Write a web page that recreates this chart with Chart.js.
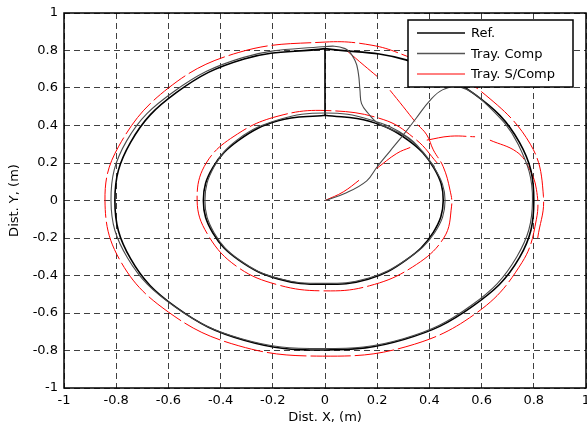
<!DOCTYPE html>
<html>
<head>
<meta charset="utf-8">
<script src="https://cdn.jsdelivr.net/npm/chart.js@4.4.1/dist/chart.umd.min.js"></script>
<style>
  html, body { margin: 0; padding: 0; background: #fff; }
</style>
</head>
<body>
<canvas id="chart" width="587" height="427"></canvas>
<script>
// Series labels and axis ticks
const seriesLabels = ['Ref.', 'Tray. Comp', 'Tray. S/Comp'];
const xTicks = [-1, -0.8, -0.6, -0.4, -0.2, 0, 0.2, 0.4, 0.6, 0.8, 1];
const xTickLabels = ['-1', '-0.8', '-0.6', '-0.4', '-0.2', '0', '0.2', '0.4', '0.6', '0.8', '1'];
const yTicks = [-1, -0.8, -0.6, -0.4, -0.2, 0, 0.2, 0.4, 0.6, 0.8, 1];
const yTickLabels = ['-1', '-0.8', '-0.6', '-0.4', '-0.2', '0', '0.2', '0.4', '0.6', '0.8', '1'];
const xTitle = 'Dist. X, (m)';
const yTitle = 'Dist. Y, (m)';

// Reference path: outer circle, straight drop at x = 0, inner circle  ([x, y] in m)
const refOuter = [[0, 0.81], [0.31, 0.75], [0.57, 0.57], [0.745, 0.31], [0.8, 0], [0.745, -0.305], [0.565, -0.565],
  [0.305, -0.74], [0, -0.797], [-0.31, -0.745], [-0.57, -0.57], [-0.745, -0.31], [-0.805, 0], [-0.745, 0.31],
  [-0.57, 0.575], [-0.31, 0.755], [0, 0.81]];
const refDrop = [[0, 0.81], [0, 0.455], [0, 0.455]];
const refInner = [[0.17, 0.423], [0.318, 0.322], [0.418, 0.172], [0.453, 0], [0.415, -0.17], [0.31, -0.318],
  [0.165, -0.42], [-0.006, -0.447], [-0.18, -0.418], [-0.33, -0.318], [-0.43, -0.172], [-0.466, 0],
  [-0.43, 0.175], [-0.33, 0.322], [-0.18, 0.425], [0, 0.455]];

// Compensated trajectory
const compStart = [[0, 0], [0.08, 0.04], [0.16, 0.105], [0.2, 0.18], [0.25, 0.265], [0.3, 0.35],
  [0.35, 0.44], [0.4, 0.53], [0.45, 0.59], [0.517, 0.606]];
const compOuter = [[0.61, 0.525], [0.74, 0.3], [0.795, 0], [0.735, -0.3], [0.56, -0.56], [0.3, -0.737],
  [-0.01, -0.79], [-0.32, -0.737], [-0.58, -0.562], [-0.757, -0.305], [-0.82, 0], [-0.76, 0.318],
  [-0.58, 0.58], [-0.315, 0.762], [-0.01, 0.82], [0.077, 0.81]];
const compDrop = [[0.115, 0.747], [0.128, 0.677], [0.134, 0.588], [0.14, 0.517], [0.166, 0.464], [0.2, 0.415]];
const compInner = [[0.32, 0.33], [0.42, 0.172], [0.46, 0], [0.42, -0.172], [0.315, -0.312], [0.165, -0.415],
  [-0.005, -0.442], [-0.18, -0.415], [-0.33, -0.315], [-0.425, -0.172], [-0.46, 0], [-0.425, 0.18],
  [-0.33, 0.33], [-0.175, 0.432], [0, 0.467], [0.17, 0.432], [0.32, 0.335], [0.42, 0.18]];

// Uncompensated trajectory (null = break in the trace)
const noCompStart = [[0, 0], [0.07, 0.046], [0.14, 0.118], null, [0.198, 0.171], [0.275, 0.251], [0.33, 0.285], null,
  [0.39, 0.322], [0.48, 0.343], [0.575, 0.34], null];
const noCompOuter = [[0.632, 0.322], [0.734, 0.26], [0.779, 0.18], [0.81, 0.06], [0.81, -0.1], [0.755, -0.33],
  [0.585, -0.595], [0.31, -0.78], [-0.01, -0.83], [-0.33, -0.775], [-0.6, -0.595], [-0.785, -0.32], [-0.843, 0],
  [-0.79, 0.29], [-0.6, 0.6], [-0.33, 0.79], [0, 0.845], [0.18, 0.828], [0.313, 0.77], [0.46, 0.68],
  [0.6, 0.58], [0.787, 0.3], [0.837, 0.02], [0.815, -0.2], null];
const noCompDrop = [[0.083, 0.8], [0.15, 0.72], [0.21, 0.65], null, [0.249, 0.588], [0.3, 0.5], [0.351, 0.411]];
const noCompInner = [[0.39, 0.35], [0.415, 0.27], [0.453, 0.18], [0.479, 0.055], [0.485, -0.03], [0.455, -0.2],
  [0.335, -0.355], [0.17, -0.455], [0, -0.482], [-0.18, -0.45], [-0.34, -0.35], [-0.45, -0.18], [-0.49, 0],
  [-0.455, 0.2], [-0.335, 0.355], [-0.18, 0.45], [0, 0.48], [0.223, 0.432], [0.351, 0.322], [0.43, 0.2]];

function toPoints(list) {
  return list.map(p => p ? { x: p[0], y: p[1] } : { x: null, y: null });
}

Chart.defaults.font.family = '"DejaVu Sans", "Liberation Sans", Arial, sans-serif';
Chart.defaults.font.size = 13;
Chart.defaults.color = '#000';

// Plot box and MATLAB-like legend
const framePlugin = {
  id: 'frame',
  afterDraw(chart) {
    const ctx = chart.ctx;
    const a = chart.chartArea;
    ctx.save();
    ctx.strokeStyle = '#000';
    ctx.lineWidth = 1.5;
    ctx.strokeRect(a.left, a.top, a.right - a.left, a.bottom - a.top);

    const bx = a.right - 178, by = a.top + 7, bw = 165, bh = 67;
    ctx.fillStyle = '#fff';
    ctx.fillRect(bx, by, bw, bh);
    ctx.lineWidth = 1.5;
    ctx.strokeRect(bx, by, bw, bh);
    ctx.font = '13px "DejaVu Sans", sans-serif';
    ctx.textBaseline = 'middle';
    ctx.textAlign = 'left';
    seriesLabels.forEach((label, i) => {
      const ds = chart.data.datasets.find(d => d.label === label);
      const y = by + 13 + i * 20.5;
      ctx.strokeStyle = ds.legendColor;
      ctx.lineWidth = ds.legendWidth;
      ctx.setLineDash([]);
      ctx.beginPath();
      ctx.moveTo(bx + 9, y);
      ctx.lineTo(bx + 57, y);
      ctx.stroke();
      ctx.fillStyle = '#000';
      ctx.fillText(label, bx + 63, y + 1);
    });
    ctx.restore();
  }
};

const ctx = document.getElementById('chart');
new Chart(ctx, {
  type: 'scatter',
  data: {
    datasets: [
      {
        label: seriesLabels[1],
        data: toPoints(compStart.concat(compOuter, compDrop, compInner)),
        showLine: true,
        borderColor: '#4a4a4a',
        borderWidth: 1.1,
        legendColor: '#555',
        legendWidth: 1.3,
        pointRadius: 0,
        tension: 0.4
      },
      {
        label: seriesLabels[0],
        data: toPoints(refOuter.concat(refDrop, refInner)),
        showLine: true,
        borderColor: '#000',
        borderWidth: 1.6,
        legendColor: '#444',
        legendWidth: 2,
        pointRadius: 0,
        tension: 0.4
      },
      {
        label: seriesLabels[2],
        data: toPoints(noCompStart.concat(noCompOuter, noCompDrop, noCompInner)),
        showLine: true,
        borderColor: '#ff0000',
        borderWidth: 1,
        borderDash: [40, 4],
        legendColor: '#ff0000',
        legendWidth: 1,
        pointRadius: 0,
        tension: 0.4
      }
    ]
  },
  options: {
    responsive: false,
    animation: false,
    layout: { padding: { top: 13, right: 1, left: 0, bottom: 0 } },
    plugins: {
      legend: { display: false },
      tooltip: { enabled: false }
    },
    scales: {
      x: {
        type: 'linear',
        min: -1,
        max: 1,
        afterBuildTicks: function(scale) {
          scale.ticks = xTicks.map(v => ({ value: v }));
        },
        afterFit: function(scale) {
          scale.height = 39;
          scale.paddingLeft = 0;
          scale.paddingRight = 0;
        },
        ticks: {
          padding: 5,
          maxRotation: 0,
          callback: function(value, index) { return xTickLabels[index]; }
        },
        grid: { color: 'rgba(0,0,0,0.75)', lineWidth: 1, drawTicks: false },
        border: { display: false, dash: [6, 4] },
        title: { display: true, text: xTitle, padding: { top: 0, bottom: 2 }, font: { size: 13 } }
      },
      y: {
        type: 'linear',
        min: -1,
        max: 1,
        afterBuildTicks: function(scale) {
          scale.ticks = yTicks.map(v => ({ value: v }));
        },
        afterFit: function(scale) {
          scale.width = 64;
          scale.paddingTop = 0;
          scale.paddingBottom = 0;
        },
        ticks: {
          padding: 6,
          callback: function(value, index) { return yTickLabels[index]; }
        },
        grid: { color: 'rgba(0,0,0,0.75)', lineWidth: 1, drawTicks: false },
        border: { display: false, dash: [6, 4] },
        title: { display: true, text: yTitle, padding: { top: 7, bottom: 0 }, font: { size: 13 } }
      }
    }
  },
  plugins: [framePlugin]
});
</script>
</body>
</html>
